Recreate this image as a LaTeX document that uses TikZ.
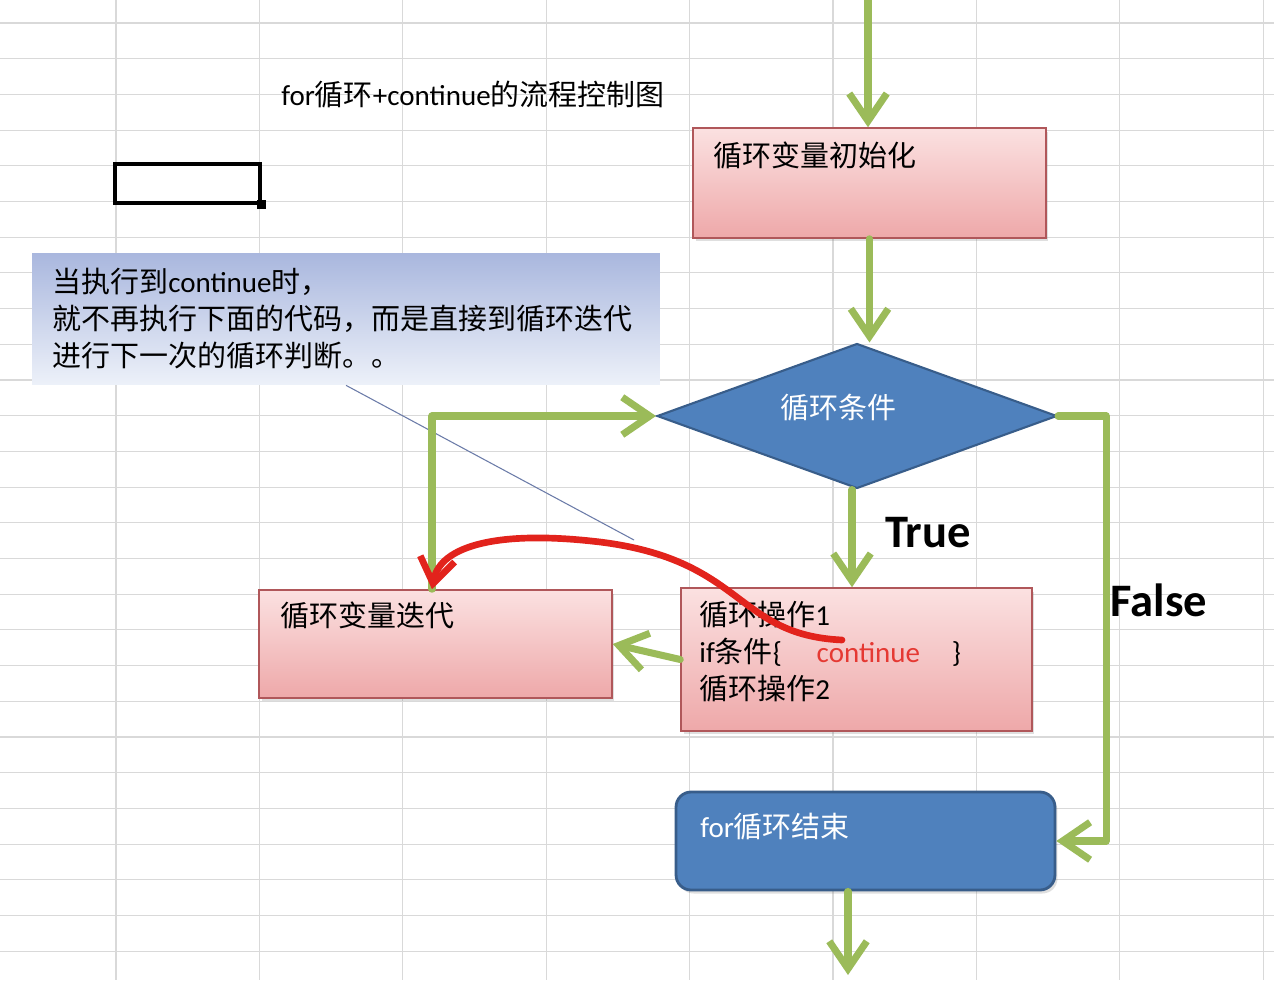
\documentclass[tikz,border=0pt]{standalone}
\usepackage{fontspec}
\setmainfont{Carlito}
\newfontfamily\cjk{Noto Sans CJK SC}
\newcommand{\zh}[1]{{\cjk #1}}
\usetikzlibrary{arrows.meta,shapes.geometric,shadows}
\definecolor{flowgreen}{HTML}{9BBB59}
\definecolor{boxblue}{HTML}{4F81BD}
\definecolor{boxblueline}{HTML}{385D8A}
\definecolor{pinktop}{HTML}{FBE1E1}
\definecolor{pinkbot}{HTML}{EEA8A9}
\definecolor{pinkline}{HTML}{B0575A}
\definecolor{notetop}{HTML}{A9B7DE}
\definecolor{notebot}{HTML}{EDF1F9}
\definecolor{jumpred}{HTML}{E2231C}
\definecolor{gridgray}{HTML}{D9D9D9}
\definecolor{pointerblue}{HTML}{6B7BA8}

\begin{document}
\begin{tikzpicture}[
      x=0.02cm,y=-0.02cm,
      every node/.style={font=\fontsize{16.5}{21}\selectfont},
      txt/.style={inner sep=0pt,align=left},
      grid/.style={draw=gridgray,line width=0.6pt},
      proc/.style={draw=pinkline,line width=0.9pt,top color=pinktop,bottom color=pinkbot,
        minimum width=7.06cm,minimum height=2.2cm,
        drop shadow={opacity=0.25,shadow xshift=0.05cm,shadow yshift=-0.07cm}},
      decide/.style={diamond,draw=boxblueline,line width=1.2pt,fill=boxblue,
        minimum width=8cm,minimum height=2.9cm,inner sep=0pt},
      term/.style={draw=boxblueline,line width=1.6pt,fill=boxblue,rounded corners=0.3cm,
        minimum width=7.58cm,minimum height=1.96cm,
        drop shadow={opacity=0.25,shadow xshift=0.05cm,shadow yshift=-0.07cm}},
      note/.style={top color=notetop,bottom color=notebot,minimum width=12.56cm,minimum height=2.64cm},
      flow/.style={draw=flowgreen,line width=4pt,line cap=round,line join=round,
        -{Straight Barb[length=5.5mm,width=7.5mm]}},
      jump/.style={draw=jumpred,line width=3.8pt,line cap=round,
        -{Straight Barb[length=5mm,width=7mm]}},
      pointer/.style={draw=pointerblue,line width=0.6pt},
      tflabel/.style={font=\fontsize{26.5}{30}\selectfont\bfseries}
    ]
    \useasboundingbox[fill=white] (0,0) rectangle (1274,980);
    % spreadsheet grid
    \foreach \gx in {0,...,8}{\draw[grid] ({116+143.4*\gx},0) -- ({116+143.4*\gx},980);}
    \foreach \gy in {0,...,26}{\draw[grid] (0,{23+35.7*\gy}) -- (1274,{23+35.7*\gy});}
    % title and selected cell
    \node (title) at (473,95) {for\zh{循环}+continue\zh{的流程控制图}};
    \node[draw=black,line width=2.8pt,minimum width=2.9cm,minimum height=0.78cm,inner sep=0pt] (sel) at (187.5,183.5) {};
    \node[fill=black,minimum size=0.19cm,inner sep=0pt] (handle) at ([xshift=-0.02cm,yshift=0.02cm]sel.south east) {};
    % callout
    \node[note] (hint) at (346,319) {};
    \node[txt,anchor=north west] (hinttext) at (52,268)
      {\zh{当执行到}continue\zh{时，}\\ \zh{就不再执行下面的代码，而是直接到循环迭代}\\ \zh{进行下一次的循环判断。。}};
    % boxes
    \node[proc] (init) at (869.5,183) {};
    \node[txt,anchor=west] (inittext) at (713,155) {\zh{循环变量初始化}};
    \node[decide] (cond) at (857,416) {};
    \node[txt,text=white] (condtext) at (838,408) {\zh{循环条件}};
    \node[proc,minimum width=7.02cm,minimum height=2.86cm] (body) at (856.5,659.5) {};
    \node[txt,anchor=north west] (bodytext) at (699,601)
      {\zh{循环操作}1\\ if\zh{条件}\{\hspace{1.2em}\textcolor{jumpred!90!white}{continue}\hspace{1.1em}\}\\ \zh{循环操作}2};
    \node[proc,minimum height=2.16cm] (iter) at (435.5,644) {};
    \node[txt,anchor=west] (itertext) at (280,615) {\zh{循环变量迭代}};
    \node[term] (done) at (865.5,841) {};
    \node[txt,anchor=west,text=white] (donetext) at (700,827) {for\zh{循环结束}};
    % branch labels
    \node[tflabel] (true) at (928,533) {True};
    \node[tflabel] (false) at (1159,600) {False};
    % callout pointer
    \coordinate (tip) at (634,540);
    \draw[pointer] (hint.south) -- (tip);
    % green flow
    \coordinate (entry) at (868,0);
    \coordinate (exit) at (848,975);
    \draw[flow] (entry) -- (entry |- init.north);
    \draw[flow] (init.south) -- (init.south |- cond.north);
    \draw[flow] ([xshift=-0.1cm]cond.south) -- ([xshift=-0.1cm]cond.south |- body.north);
    \draw[flow] (body.west) -- (iter.east);
    \draw[flow] ([xshift=-0.07cm]iter.north) |- (cond.west);
    \draw[flow] (cond.east) -- ++(48,0) |- (done.east);
    \draw[flow] (exit |- done.south) -- (exit);
    % continue jump
    \coordinate (skip) at (842,640);
    \draw[jump] (skip) .. controls (735,635) and (745,560) .. (600,542)
      .. controls (500,530) and (440,545) .. ([xshift=-0.07cm]iter.north);
  \end{tikzpicture}
\end{document}
